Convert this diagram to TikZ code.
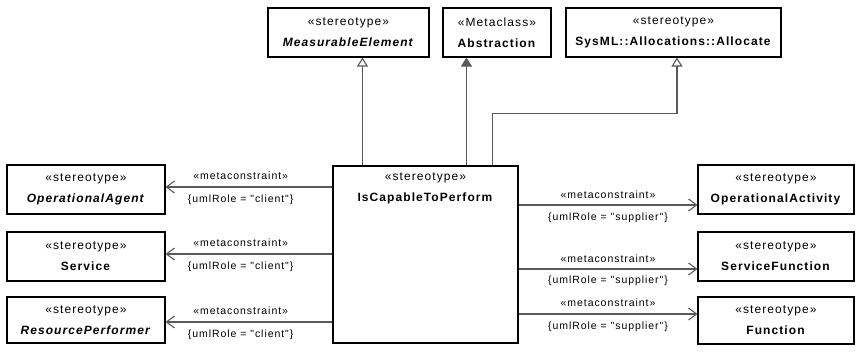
\documentclass[tikz,border=0pt]{standalone}
\usepackage{fontspec}
\setmainfont{Liberation Sans}
\newfontfamily\umlfont[LetterSpace=9]{Liberation Sans}
\usepackage{tikz}
\usetikzlibrary{arrows.meta}

\begin{document}
\begin{tikzpicture}[x=1pt, y=-1pt,
    umlbox/.style={draw=black, line width=1.1pt, align=center, inner sep=0pt,
        minimum height=49pt, font=\umlfont\fontsize{12}{21}\selectfont},
    conn/.style={draw=black!65, line width=1.1pt},
    gen/.style={conn, -{Triangle[open, length=9pt, width=11pt]}},
    ext/.style={conn, -{Triangle[length=9pt, width=11pt]}},
    meta/.style={conn, -{Straight Barb[length=8pt, width=12pt]}},
    lbl/.style={font=\umlfont\fontsize{10.5}{12}\selectfont, inner sep=1pt}]

    \useasboundingbox (0,0) rectangle (861,362);

    % top row

    \node[umlbox, minimum width=161pt] (meas) at (348.5,32.5) {«stereotype»\\\textbf{\textit{MeasurableElement}}};
    \node[umlbox, minimum width=108pt] (abstr) at (497,32.5) {«Metaclass»\\\textbf{Abstraction}};
    \node[umlbox, minimum width=215pt] (alloc) at (673.5,32.5) {«stereotype»\\\textbf{SysML::Allocations::Allocate}};

    % middle

    \node[umlbox, minimum width=185pt, minimum height=177pt,
        label={[anchor=north, yshift=-4pt, align=center, font=\umlfont\fontsize{12}{21}\selectfont]north:«stereotype»\\\textbf{IsCapableToPerform}}]
        (cap) at (425.5,254.5) {};

    % left column

    \node[umlbox, minimum width=158pt] (opagent) at (86,189.5) {«stereotype»\\\textbf{\textit{OperationalAgent}}};
    \node[umlbox, minimum width=158pt] (service) at (86,256.5) {«stereotype»\\\textbf{Service}};
    \node[umlbox, minimum width=158pt, minimum height=46pt] (resperf) at (86,320) {«stereotype»\\\textbf{\textit{ResourcePerformer}}};

    % right column

    \node[umlbox, minimum width=156pt] (opact) at (776,189.5) {«stereotype»\\\textbf{OperationalActivity}};
    \node[umlbox, minimum width=156pt] (servfn) at (776,256.5) {«stereotype»\\\textbf{ServiceFunction}};
    \node[umlbox, minimum width=156pt, minimum height=47pt] (func) at (776,320.5) {«stereotype»\\\textbf{Function}};

    % generalizations

    \coordinate (g1) at ([xshift=30pt]cap.north west);
    \coordinate (g2) at ([xshift=134pt]cap.north west);
    \coordinate (g3) at ([xshift=160pt]cap.north west);
    \draw[gen] (g1) -- (g1 |- meas.south);
    \draw[ext] (g2) -- (g2 |- abstr.south);
    \draw[gen] (g3) -- ++(0,-52) -| ([xshift=3.5pt]alloc.south);

    % metaconstraints, client side

    \coordinate (c1) at ([yshift=2.5pt]opagent.east);
    \coordinate (c2) at ([yshift=2.5pt]service.east);
    \coordinate (c3) at ([yshift=-2pt]resperf.east);
    \draw[meta] (c1 -| cap.west) -- node[lbl, above=6pt, pos=0.55] {«metaconstraint»} node[lbl, below=6pt, pos=0.55] {\{umlRole = "client"\}} (c1);
    \draw[meta] (c2 -| cap.west) -- node[lbl, above=6pt, pos=0.55] {«metaconstraint»} node[lbl, below=6pt, pos=0.55] {\{umlRole = "client"\}} (c2);
    \draw[meta] (c3 -| cap.west) -- node[lbl, above=6pt, pos=0.55] {«metaconstraint»} node[lbl, below=6pt, pos=0.55] {\{umlRole = "client"\}} (c3);

    % metaconstraints, supplier side

    \coordinate (s1) at ([yshift=-15.5pt]opact.west);
    \coordinate (s2) at ([yshift=-12.5pt]servfn.west);
    \coordinate (s3) at ([yshift=6.5pt]func.west);
    \draw[meta] (s1 -| cap.east) -- node[lbl, above=5pt] {«metaconstraint»} node[lbl, below=6pt] {\{umlRole = "supplier"\}} (s1);
    \draw[meta] (s2 -| cap.east) -- node[lbl, above=5pt] {«metaconstraint»} node[lbl, below=5pt] {\{umlRole = "supplier"\}} (s2);
    \draw[meta] (s3 -| cap.east) -- node[lbl, above=6pt] {«metaconstraint»} node[lbl, below=6pt] {\{umlRole = "supplier"\}} (s3);

\end{tikzpicture}
\end{document}
